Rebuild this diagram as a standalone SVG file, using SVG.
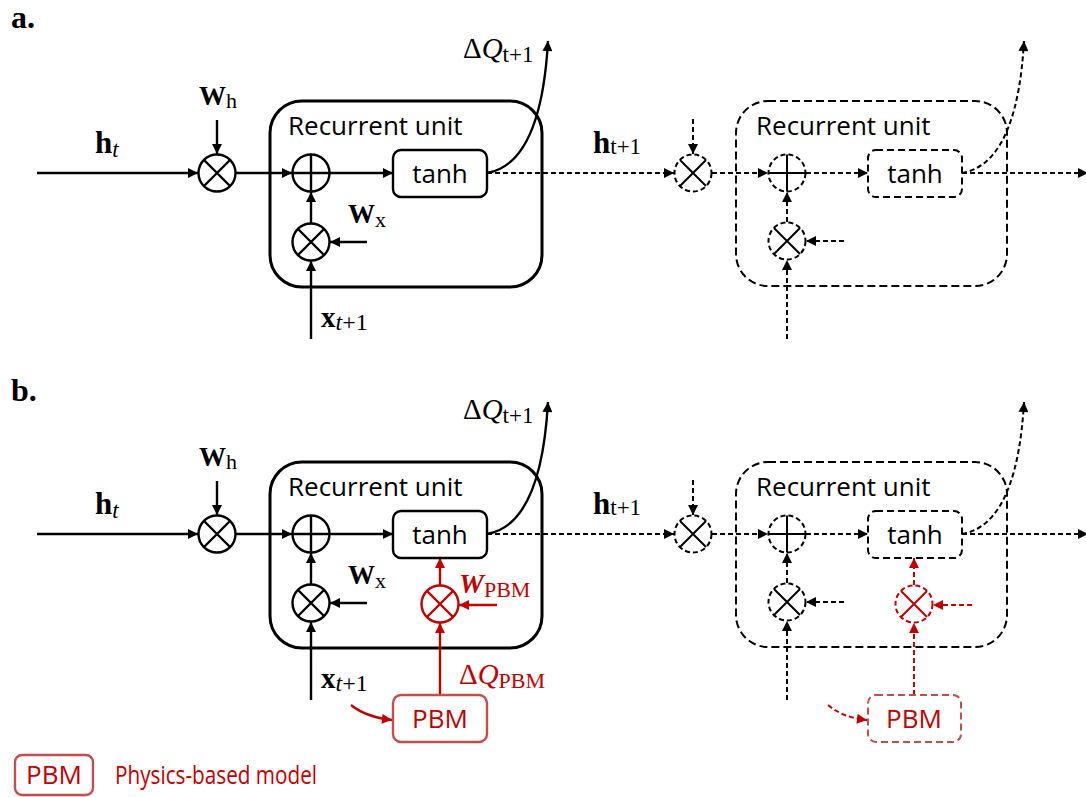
<svg xmlns="http://www.w3.org/2000/svg" width="1086" height="797" viewBox="0 0 1086 797">
<style>
.s{fill:none;stroke:#000;stroke-width:2.4}
.box{fill:none;stroke:#000;stroke-width:3}
.dbox{fill:none;stroke:#000;stroke-width:2;stroke-dasharray:8,4}
.d{fill:none;stroke:#000;stroke-width:2;stroke-dasharray:5,3}
.rs{fill:none;stroke:#C00000;stroke-width:2.4}
.rd{fill:none;stroke:#C00000;stroke-width:2;stroke-dasharray:5,3}
.pbm{fill:#fff;stroke:#C0504D;stroke-width:2.4}
.pbmd{fill:#fff;stroke:#C0504D;stroke-width:2;stroke-dasharray:7,4}
.sans{font-family:"Open Sans","Noto Sans",sans-serif;font-size:26px;fill:#000}
.m{font-family:"Liberation Serif","DejaVu Serif",serif;font-size:29px;fill:#000}
.lab{font-family:"Liberation Serif","DejaVu Serif",serif;font-weight:bold;font-size:32px}
.red{fill:#C00000}
</style>
<defs>
<marker id="ah" viewBox="0 0 10 10" refX="10" refY="5" markerWidth="11" markerHeight="10" markerUnits="userSpaceOnUse" orient="auto"><path d="M0,0 L10,5 L0,10 z" fill="#000"/></marker>
<marker id="ahr" viewBox="0 0 10 10" refX="10" refY="5" markerWidth="11" markerHeight="10" markerUnits="userSpaceOnUse" orient="auto"><path d="M0,0 L10,5 L0,10 z" fill="#C00000"/></marker>
<g id="mul"><circle cx="0" cy="0" r="18.5" fill="#fff" stroke="#000" stroke-width="2.4"/><path d="M-13,-13 L13,13 M13,-13 L-13,13" stroke="#000" stroke-width="2.4"/></g>
<g id="add"><circle cx="0" cy="0" r="18.5" fill="#fff" stroke="#000" stroke-width="2.4"/><path d="M-18.5,0 H18.5 M0,-18.5 V18.5" stroke="#000" stroke-width="2.4"/></g>
<g id="muld"><circle cx="0" cy="0" r="18.5" fill="#fff" stroke="#000" stroke-width="2" stroke-dasharray="5,3"/><path d="M-13,-13 L13,13 M13,-13 L-13,13" stroke="#000" stroke-width="2"/></g>
<g id="addd"><circle cx="0" cy="0" r="18.5" fill="#fff" stroke="#000" stroke-width="2" stroke-dasharray="5,3"/><path d="M-18.5,0 H18.5 M0,-18.5 V18.5" stroke="#000" stroke-width="2"/></g>
<g id="mulr"><circle cx="0" cy="0" r="18.5" fill="#fff" stroke="#C00000" stroke-width="2.4"/><path d="M-13,-13 L13,13 M13,-13 L-13,13" stroke="#C00000" stroke-width="2.4"/></g>
<g id="mulrd"><circle cx="0" cy="0" r="18.5" fill="#fff" stroke="#C00000" stroke-width="2" stroke-dasharray="5,3"/><path d="M-13,-13 L13,13 M13,-13 L-13,13" stroke="#C00000" stroke-width="2"/></g>
</defs>
<rect width="1086" height="797" fill="#fff"/>

<text x="11" y="28" class="lab">a.</text>
<text x="11" y="401" class="lab">b.</text>

<!-- ============ PANEL A ============ -->
<g id="panel-a">
  <g id="a-unit1"><rect x="270" y="101" width="272" height="186" rx="32" class="box"/>
    <text x="288" y="135" class="sans">Recurrent unit</text></g>
  <g id="a-unit2"><rect x="736" y="101" width="271" height="185" rx="32" class="dbox"/>
    <text x="756" y="135" class="sans">Recurrent unit</text></g>
  <g id="a-connectors">
    <path class="s" d="M37,173 H198" marker-end="url(#ah)"/>
    <path class="s" d="M217,120 V154" marker-end="url(#ah)"/>
    <path class="s" d="M236,173 H292" marker-end="url(#ah)"/>
    <path class="s" d="M330,173 H393" marker-end="url(#ah)"/>
    <path class="s" d="M311,223 V192" marker-end="url(#ah)"/>
    <path class="s" d="M367,242 H330" marker-end="url(#ah)"/>
    <path class="s" d="M311,339 V261" marker-end="url(#ah)"/>
    <path class="d" d="M487,173 H674" marker-end="url(#ah)"/>
    <path class="s" d="M487,173 C528,166 544,112 548,41" marker-end="url(#ah)"/>
    <path class="d" d="M693,119 V154" marker-end="url(#ah)"/>
    <path class="d" d="M712,173 H768" marker-end="url(#ah)"/>
    <path class="d" d="M806,173 H868" marker-end="url(#ah)"/>
    <path class="d" d="M962,173 H1088" marker-end="url(#ah)"/>
    <path class="d" d="M962,173 C1003,166 1020,112 1024,41" marker-end="url(#ah)"/>
    <path class="d" d="M787,222 V192" marker-end="url(#ah)"/>
    <path class="d" d="M844,241 H806" marker-end="url(#ah)"/>
    <path class="d" d="M787,339 V260" marker-end="url(#ah)"/>
  </g>
  <g id="a-mulh"><use href="#mul" x="217" y="173"/></g>
  <g id="a-add"><use href="#add" x="311" y="173"/></g>
  <g id="a-mulx"><use href="#mul" x="311" y="242"/></g>
  <g id="a-tanh"><rect x="393" y="150" width="94" height="47" rx="8" fill="#fff" stroke="#000" stroke-width="2.4"/>
    <text x="440" y="183" class="sans" text-anchor="middle">tanh</text></g>
  <g id="a-mulh2"><use href="#muld" x="693" y="173"/></g>
  <g id="a-add2"><use href="#addd" x="787" y="173"/></g>
  <g id="a-mulx2"><use href="#muld" x="787" y="241"/></g>
  <g id="a-tanh2"><rect x="868" y="150" width="94" height="47" rx="8" fill="#fff" stroke="#000" stroke-width="2" stroke-dasharray="7,4"/>
    <text x="915" y="183" class="sans" text-anchor="middle">tanh</text></g>
  <g id="a-labels" class="m">
    <text x="95" y="153"><tspan font-weight="bold" font-size="31">h</tspan><tspan font-style="italic" font-size="23" dy="4">t</tspan></text>
    <text x="199" y="105"><tspan font-weight="bold" font-size="27">W</tspan><tspan font-size="22" dy="3">h</tspan></text>
    <text x="463" y="58"><tspan>Δ</tspan><tspan font-style="italic">Q</tspan><tspan font-size="23" dy="4">t+1</tspan></text>
    <text x="348" y="223"><tspan font-weight="bold" font-size="27">W</tspan><tspan font-size="22" dy="4">x</tspan></text>
    <text x="321" y="327"><tspan font-weight="bold" font-size="29">x</tspan><tspan font-style="italic" font-size="24" dy="3">t</tspan><tspan font-size="24">+1</tspan></text>
    <text x="593" y="153"><tspan font-weight="bold" font-size="31">h</tspan><tspan font-size="23" dy="1">t+1</tspan></text>
  </g>
</g>

<!-- ============ PANEL B ============ -->
<g id="panel-b" transform="translate(0,361)">
  <g id="b-unit1"><rect x="270" y="101" width="272" height="186" rx="32" class="box"/>
    <text x="288" y="135" class="sans">Recurrent unit</text></g>
  <g id="b-unit2"><rect x="736" y="101" width="271" height="185" rx="32" class="dbox"/>
    <text x="756" y="135" class="sans">Recurrent unit</text></g>
  <g id="b-connectors">
    <path class="s" d="M37,173 H198" marker-end="url(#ah)"/>
    <path class="s" d="M217,120 V154" marker-end="url(#ah)"/>
    <path class="s" d="M236,173 H292" marker-end="url(#ah)"/>
    <path class="s" d="M330,173 H393" marker-end="url(#ah)"/>
    <path class="s" d="M311,223 V192" marker-end="url(#ah)"/>
    <path class="s" d="M367,242 H330" marker-end="url(#ah)"/>
    <path class="s" d="M311,339 V261" marker-end="url(#ah)"/>
    <path class="d" d="M487,173 H674" marker-end="url(#ah)"/>
    <path class="s" d="M487,173 C528,166 544,112 548,41" marker-end="url(#ah)"/>
    <path class="d" d="M693,119 V154" marker-end="url(#ah)"/>
    <path class="d" d="M712,173 H768" marker-end="url(#ah)"/>
    <path class="d" d="M806,173 H868" marker-end="url(#ah)"/>
    <path class="d" d="M962,173 H1088" marker-end="url(#ah)"/>
    <path class="d" d="M962,173 C1003,166 1020,112 1024,41" marker-end="url(#ah)"/>
    <path class="d" d="M787,222 V192" marker-end="url(#ah)"/>
    <path class="d" d="M844,241 H806" marker-end="url(#ah)"/>
    <path class="d" d="M787,339 V260" marker-end="url(#ah)"/>
    <path class="rs" d="M440,224 V197" marker-end="url(#ahr)"/>
    <path class="rs" d="M497,244 H459" marker-end="url(#ahr)"/>
    <path class="rs" d="M440,334 V262" marker-end="url(#ahr)"/>
    <path class="rs" d="M351,344 C362,353 374,357 392,359" marker-end="url(#ahr)"/>
    <path class="rd" d="M914,224 V197" marker-end="url(#ahr)"/>
    <path class="rd" d="M972,244 H933" marker-end="url(#ahr)"/>
    <path class="rd" d="M914,334 V262" marker-end="url(#ahr)"/>
    <path class="rd" d="M828,344 C839,353 850,357 867,359" marker-end="url(#ahr)"/>
  </g>
  <g id="b-mulh"><use href="#mul" x="217" y="173"/></g>
  <g id="b-add"><use href="#add" x="311" y="173"/></g>
  <g id="b-mulx"><use href="#mul" x="311" y="242"/></g>
  <g id="b-mulpbm"><use href="#mulr" x="440" y="243"/></g>
  <g id="b-tanh"><rect x="393" y="150" width="94" height="47" rx="8" fill="#fff" stroke="#000" stroke-width="2.4"/>
    <text x="440" y="183" class="sans" text-anchor="middle">tanh</text></g>
  <g id="b-pbm"><rect x="393" y="334" width="94" height="47" rx="8" class="pbm"/>
    <text x="440" y="367" class="sans red" text-anchor="middle">PBM</text></g>
  <g id="b-mulh2"><use href="#muld" x="693" y="173"/></g>
  <g id="b-add2"><use href="#addd" x="787" y="173"/></g>
  <g id="b-mulx2"><use href="#muld" x="787" y="241"/></g>
  <g id="b-mulpbm2"><use href="#mulrd" x="914" y="243"/></g>
  <g id="b-tanh2"><rect x="868" y="150" width="94" height="47" rx="8" fill="#fff" stroke="#000" stroke-width="2" stroke-dasharray="7,4"/>
    <text x="915" y="183" class="sans" text-anchor="middle">tanh</text></g>
  <g id="b-pbm2"><rect x="868" y="334" width="93" height="47" rx="8" class="pbmd"/>
    <text x="914" y="367" class="sans red" text-anchor="middle">PBM</text></g>
  <g id="b-labels" class="m">
    <text x="95" y="153"><tspan font-weight="bold" font-size="31">h</tspan><tspan font-style="italic" font-size="23" dy="4">t</tspan></text>
    <text x="199" y="105"><tspan font-weight="bold" font-size="27">W</tspan><tspan font-size="22" dy="3">h</tspan></text>
    <text x="463" y="58"><tspan>Δ</tspan><tspan font-style="italic">Q</tspan><tspan font-size="23" dy="4">t+1</tspan></text>
    <text x="348" y="223"><tspan font-weight="bold" font-size="27">W</tspan><tspan font-size="22" dy="4">x</tspan></text>
    <text x="321" y="327"><tspan font-weight="bold" font-size="29">x</tspan><tspan font-style="italic" font-size="24" dy="3">t</tspan><tspan font-size="24">+1</tspan></text>
    <text x="593" y="153"><tspan font-weight="bold" font-size="31">h</tspan><tspan font-size="23" dy="1">t+1</tspan></text>
    <text x="459" y="232" class="red"><tspan font-weight="bold" font-style="italic" font-size="28">W</tspan><tspan font-size="22" dy="4">PBM</tspan></text>
    <text x="459" y="323" class="red"><tspan>Δ</tspan><tspan font-style="italic">Q</tspan><tspan font-size="22" dy="4">PBM</tspan></text>
  </g>
</g>

<!-- ============ LEGEND ============ -->
<g id="legend">
  <rect x="15" y="755" width="78" height="40" rx="7" class="pbm"/>
  <text x="54" y="784" class="sans red" text-anchor="middle" font-size="21">PBM</text>
  <text x="115" y="784" class="sans red" font-size="20" textLength="202" lengthAdjust="spacingAndGlyphs">Physics-based model</text>
</g>
</svg>
